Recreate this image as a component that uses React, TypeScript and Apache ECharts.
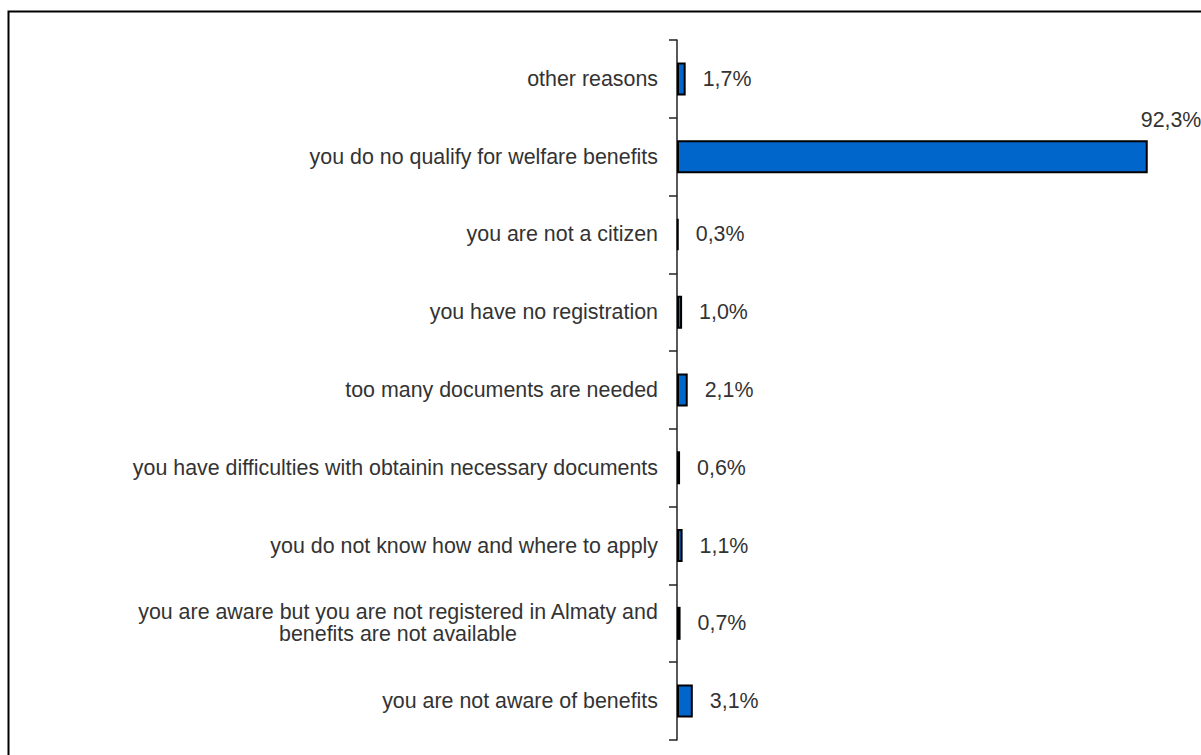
import React, { useEffect, useRef } from "react";
import * as echarts from "echarts";

const categories: string[] = [
  "other reasons",
  "you do no qualify for welfare benefits",
  "you are not a citizen",
  "you have no registration",
  "too many documents are needed",
  "you have difficulties with obtainin necessary documents",
  "you do not know how and where to apply",
  "you are aware but you are not registered in Almaty and\nbenefits are not available",
  "you are not aware of benefits",
];

const values: number[] = [1.7, 92.3, 0.3, 1.0, 2.1, 0.6, 1.1, 0.7, 3.1];

const valueLabels: string[] = ["1,7%", "92,3%", "0,3%", "1,0%", "2,1%", "0,6%", "1,1%", "0,7%", "3,1%"];

const FONT = "'Liberation Sans', Arial, sans-serif";
const FS = 21.4;
const TXT = "#333";

export default function App() {
  const ref = useRef<HTMLDivElement>(null);

  useEffect(() => {
    if (!ref.current) return;
    const chart = echarts.init(ref.current, undefined, { renderer: "svg" });
    const option: any = {
      animation: false,
      backgroundColor: "#ffffff",
      textStyle: { fontFamily: FONT },
      grid: { left: 677, right: 14, top: 40, bottom: 15, containLabel: false },
      xAxis: {
        type: "value",
        min: 0,
        max: 100,
        show: false,
      },
      yAxis: {
        type: "category",
        data: categories,
        inverse: true,
        axisLine: { show: true, lineStyle: { color: "#222", width: 1.5 } },
        axisTick: { show: true, length: 8, lineStyle: { color: "#222", width: 1.5 } },
        splitLine: { show: false },
        axisLabel: {
          margin: 19,
          color: TXT,
          fontFamily: FONT,
          fontSize: FS,
          align: "right",
          lineHeight: 22,
          formatter: (v: string) => {
            if (v.indexOf("\n") >= 0) {
              return v
                .split("\n")
                .map((l) => "{c|" + l + "}")
                .join("\n");
            }
            return v;
          },
          rich: {
            c: {
              width: 520,
              align: "center",
              fontSize: FS,
              lineHeight: 22,
              color: TXT,
              fontFamily: FONT,
            },
          },
        },
      },
      series: [
        {
          type: "bar",
          barWidth: 33,
          data: values.map((v, i) => {
            const item: any = { value: v };
            if (i === 1) {
              item.label = { offset: [-24, -37] };
            }
            return item;
          }),
          itemStyle: { color: "#0066CC", borderColor: "#000", borderWidth: 2 },
          label: {
            show: true,
            position: "right",
            distance: 17,
            color: TXT,
            fontFamily: FONT,
            fontSize: FS,
            formatter: (p: any) => valueLabels[p.dataIndex],
          },
        },
      ],
      graphic: [
        {
          type: "rect",
          shape: { x: 8.5, y: 11.5, width: 1300, height: 900 },
          style: { fill: "none", stroke: "#000", lineWidth: 2 },
          silent: true,
        },
      ],
    };
    chart.setOption(option);
    return () => chart.dispose();
  }, []);

  return (
    <div
      ref={ref}
      style={{ position: "fixed", left: 0, top: 0, width: 1201, height: 755, background: "#fff" }}
    />
  );
}
